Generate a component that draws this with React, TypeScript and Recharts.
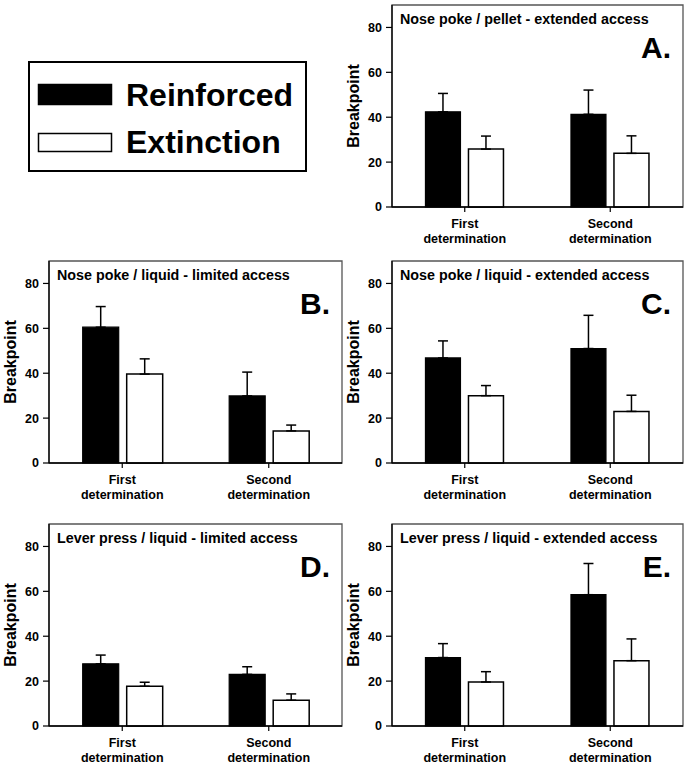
import React from "react";
import { BarChart, Bar, XAxis, YAxis, ErrorBar, Label, ReferenceArea } from "recharts";

const FONT = "Arial, 'Liberation Sans', sans-serif";

const categories = ["First determination", "Second determination"];
const yTicks = [0, 20, 40, 60, 80];

const seriesNames = ["Reinforced", "Extinction"];
const seriesFills = ["#000000", "#ffffff"];

const panelTitles = [
  "Nose poke / pellet - extended access",
  "Nose poke / liquid - limited access",
  "Nose poke / liquid - extended access",
  "Lever press / liquid - limited access",
  "Lever press / liquid - extended access",
];
const panelLetters = ["A.", "B.", "C.", "D.", "E."];

// mean breakpoint and SEM, per panel (first, second determination)
const reinforced = [
  [42.4, 41.3],
  [60.5, 29.9],
  [46.8, 51.0],
  [27.7, 23.0],
  [30.5, 58.5],
];
const reinforcedErr = [
  [8.2, 10.8],
  [9.2, 10.6],
  [7.6, 14.8],
  [3.9, 3.4],
  [6.2, 13.9],
];
const extinction = [
  [25.8, 23.9],
  [39.6, 14.3],
  [30.0, 23.0],
  [17.7, 11.5],
  [19.6, 29.1],
];
const extinctionErr = [
  [5.8, 7.8],
  [6.8, 2.6],
  [4.5, 7.2],
  [1.8, 2.8],
  [4.6, 9.7],
];

// plot box of each panel on the page
const panelBoxes = [
  { left: 392, top: 5, w: 291 },
  { left: 49, top: 261, w: 293 },
  { left: 392, top: 261, w: 291 },
  { left: 49, top: 524, w: 293 },
  { left: 392, top: 524, w: 291 },
];
const PLOT_H = 202;
const Y_AXIS_W = 49;
const M_TOP = 5;
const X_AXIS_H = 45;

const XTick = (props: any) => {
  const { x, y, payload } = props;
  const words = String(payload.value).split(" ");
  return (
    <text
      x={x}
      y={y}
      textAnchor="middle"
      fontSize={12.5}
      fontWeight={700}
      fill="#000"
      fontFamily={FONT}
    >
      {words.map((w, i) => (
        <tspan key={i} x={x} dy={i === 0 ? 14 : 14.5}>
          {w}
        </tspan>
      ))}
    </text>
  );
};

const Panel = ({ index }: { index: number }) => {
  const box = panelBoxes[index];
  const data = categories.map((name, i) => ({
    name,
    reinforced: reinforced[index][i],
    reinforcedErr: [0, reinforcedErr[index][i]],
    extinction: extinction[index][i],
    extinctionErr: [0, extinctionErr[index][i]],
  }));

  const width = Y_AXIS_W + box.w + 3;
  const height = M_TOP + PLOT_H + X_AXIS_H + 3;

  const renderYLabel = (props: any) => {
    const vb = props.viewBox;
    const x = vb.x + 16;
    const y = vb.y + vb.height / 2;
    return (
      <text
        x={x}
        y={y}
        transform={`rotate(-90, ${x}, ${y})`}
        textAnchor="middle"
        fontSize={16}
        fontWeight={700}
        fill="#000"
        fontFamily={FONT}
      >
        Breakpoint
      </text>
    );
  };

  const renderTitle = (props: any) => {
    const vb = props.viewBox;
    return (
      <g>
        <text
          x={vb.x + 8}
          y={vb.y + 19}
          fontSize={14.3}
          fontWeight={700}
          fill="#000"
          fontFamily={FONT}
        >
          {panelTitles[index]}
        </text>
        <text
          x={vb.x + vb.width - 12}
          y={vb.y + 53}
          textAnchor="end"
          fontSize={30}
          fontWeight={700}
          fill="#000"
          fontFamily={FONT}
        >
          {panelLetters[index]}
        </text>
      </g>
    );
  };

  return (
    <div
      style={{
        position: "absolute",
        left: box.left - Y_AXIS_W,
        top: box.top - M_TOP,
        width,
        height,
      }}
    >
      <BarChart
        width={width}
        height={height}
        data={data}
        margin={{ top: M_TOP, right: 3, bottom: 3, left: 0 }}
        barCategoryGap="23%"
        barGap={8}
      >
        <ReferenceArea
          y1={0}
          y2={90}
          fill="none"
          stroke="#555"
          strokeWidth={1.3}
          ifOverflow="visible"
        >
          <Label content={renderTitle} />
        </ReferenceArea>
        <XAxis
          dataKey="name"
          height={X_AXIS_H}
          interval={0}
          tick={<XTick />}
          tickSize={5}
          tickLine={{ stroke: "#000", strokeWidth: 1.2 }}
          axisLine={{ stroke: "#000", strokeWidth: 1.3 }}
        />
        <YAxis
          width={Y_AXIS_W}
          domain={[0, 90]}
          ticks={yTicks}
          tickSize={6}
          tickMargin={4}
          tick={{ fontSize: 12.5, fontWeight: 700, fill: "#000", fontFamily: FONT }}
          tickLine={{ stroke: "#000", strokeWidth: 1.2 }}
          axisLine={{ stroke: "#000", strokeWidth: 1.3 }}
        >
          <Label content={renderYLabel} />
        </YAxis>
        <Bar
          dataKey="reinforced"
          name={seriesNames[0]}
          fill={seriesFills[0]}
          stroke="#000"
          strokeWidth={1.2}
          isAnimationActive={false}
        >
          <ErrorBar
            dataKey="reinforcedErr"
            width={5}
            stroke="#000"
            strokeWidth={1.5}
            isAnimationActive={false}
          />
        </Bar>
        <Bar
          dataKey="extinction"
          name={seriesNames[1]}
          fill={seriesFills[1]}
          stroke="#000"
          strokeWidth={1.5}
          isAnimationActive={false}
        >
          <ErrorBar
            dataKey="extinctionErr"
            width={5}
            stroke="#000"
            strokeWidth={1.5}
            isAnimationActive={false}
          />
        </Bar>
      </BarChart>
    </div>
  );
};

const LegendBox = () => (
  <svg
    width={320}
    height={180}
    style={{ position: "absolute", left: 0, top: 0 }}
  >
    <rect x={29} y={62} width={277} height={109} fill="#fff" stroke="#000" strokeWidth={2} />
    {seriesNames.map((name, i) => (
      <g key={name}>
        <rect
          x={38.5}
          y={i === 0 ? 84.5 : 133.5}
          width={73}
          height={i === 0 ? 20 : 18}
          fill={seriesFills[i]}
          stroke="#000"
          strokeWidth={1.5}
        />
        <text
          x={126}
          y={i === 0 ? 106 : 153}
          fontSize={32}
          fontWeight={700}
          fill="#000"
          fontFamily={FONT}
        >
          {name}
        </text>
      </g>
    ))}
  </svg>
);

export default function App() {
  return (
    <div
      style={{
        position: "absolute",
        left: 0,
        top: 0,
        width: 688,
        height: 766,
        background: "#fff",
        fontFamily: FONT,
      }}
    >
      <LegendBox />
      {panelTitles.map((_, i) => (
        <Panel key={i} index={i} />
      ))}
    </div>
  );
}
